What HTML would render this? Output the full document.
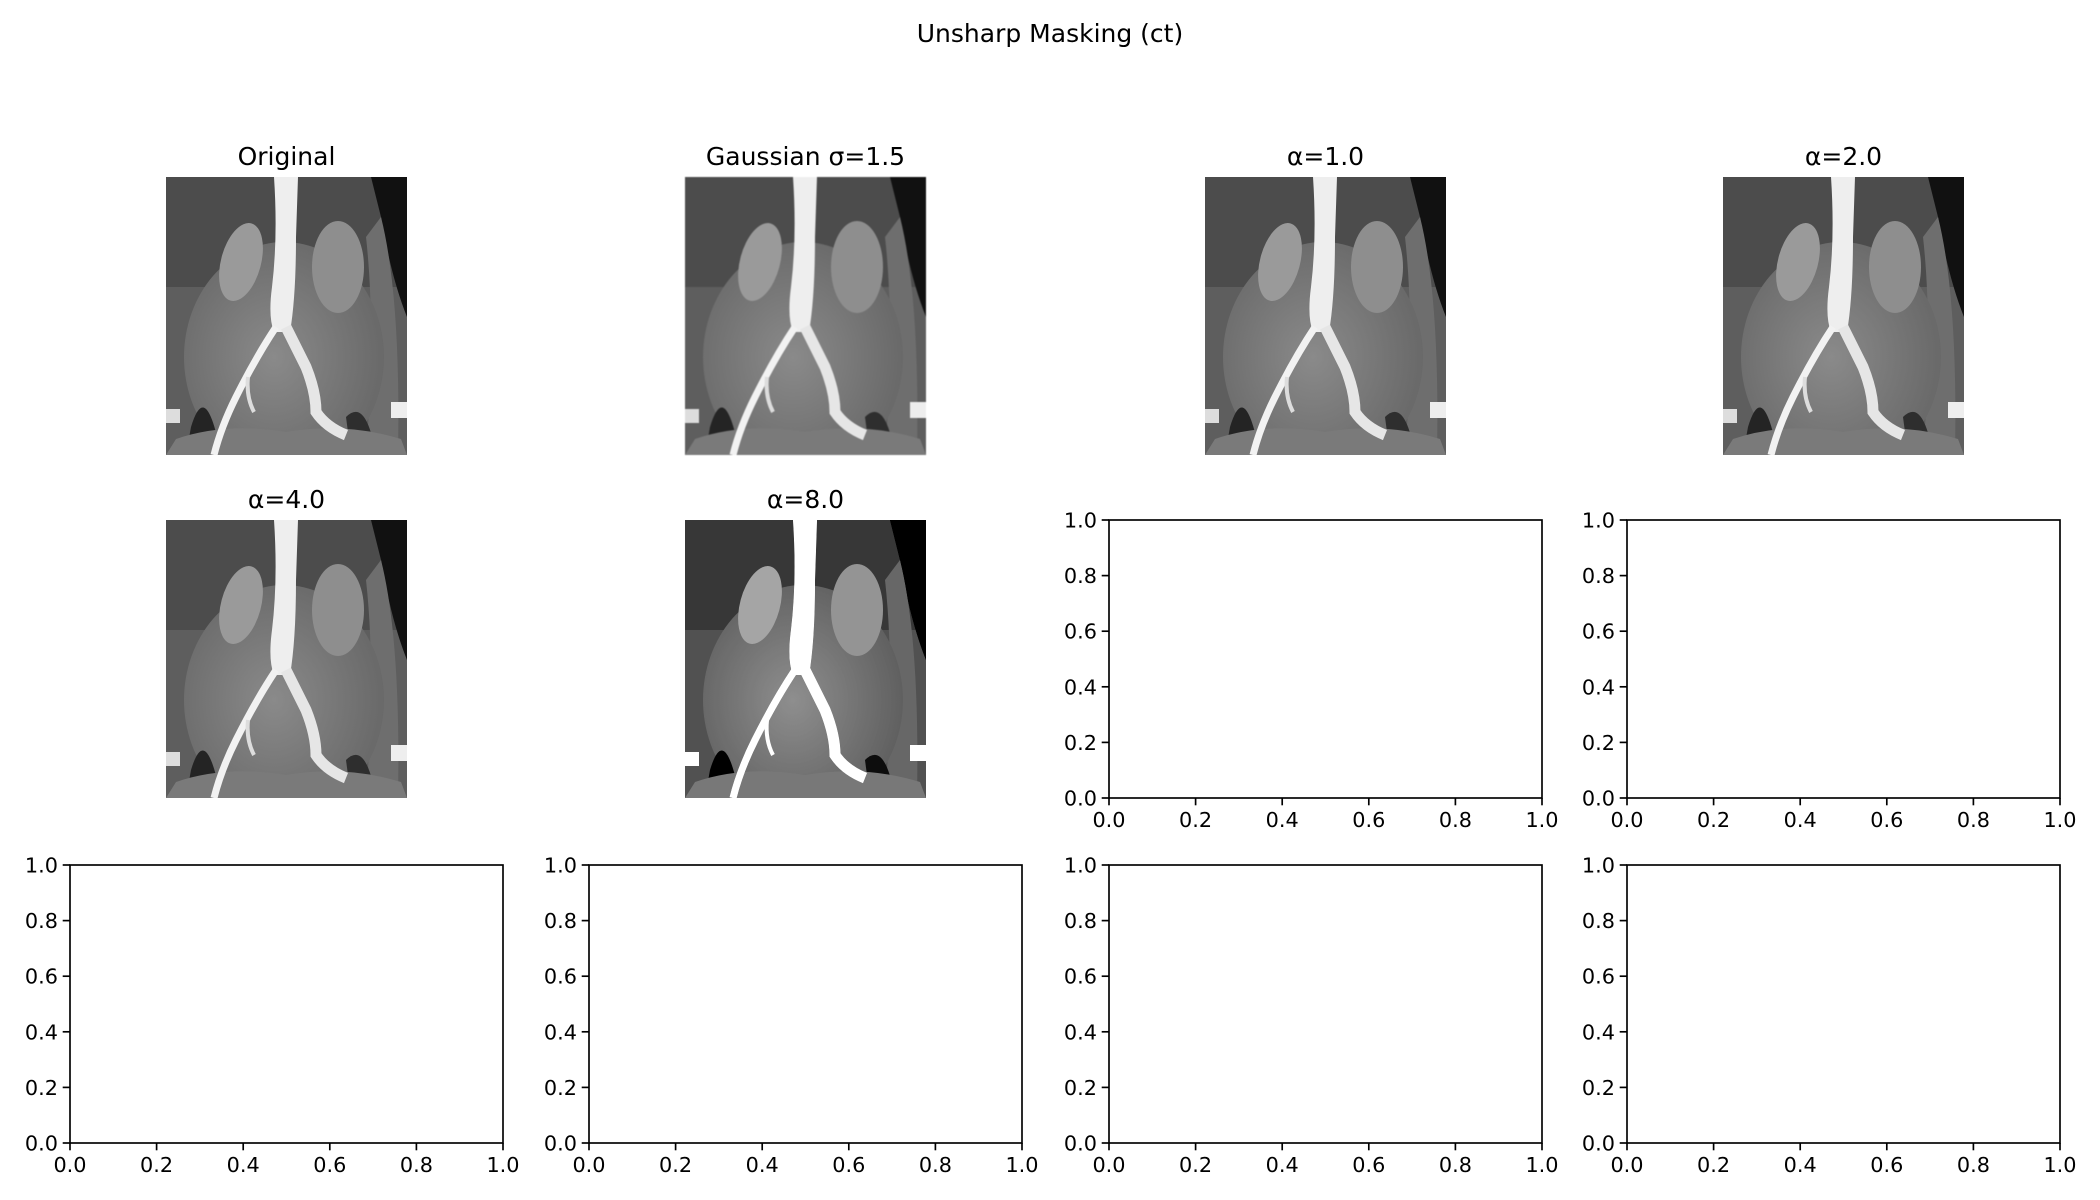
<!DOCTYPE html>
<html><head><meta charset="utf-8"><style>
html,body{margin:0;padding:0;background:#fff;}
svg{display:block;font-family:"DejaVu Sans","Liberation Sans",sans-serif;}
</style></head><body>
<svg id="fig" width="2100" height="1200" viewBox="0 0 2100 1200" xmlns="http://www.w3.org/2000/svg">
<defs>
<radialGradient id="bodyG" cx="0.45" cy="0.5" r="0.6"><stop offset="0" stop-color="#8a8a8a"/><stop offset="1" stop-color="#666"/></radialGradient>
<clipPath id="imgClip"><rect x="0" y="0" width="241" height="278"/></clipPath>
<g id="ct">
<g clip-path="url(#imgClip)">
<rect x="0" y="0" width="241" height="278" fill="#5e5e5e"/>
<rect x="0" y="0" width="241" height="110" fill="#4c4c4c"/>
<path d="M205 0 L241 0 L241 140 Q225 100 215 40 Z" fill="#111"/>
<path d="M215 40 Q235 120 232 278 L200 278 Q210 150 200 60 Z" fill="#6e6e6e"/>
<ellipse cx="118" cy="180" rx="100" ry="115" fill="url(#bodyG)"/>
<ellipse cx="75" cy="85" rx="20" ry="40" fill="#9a9a9a" transform="rotate(15 75 85)"/>
<ellipse cx="172" cy="90" rx="26" ry="46" fill="#8e8e8e"/>
<path d="M25 250 Q40 200 55 278 L20 278 Z" fill="#242424"/>
<path d="M180 240 Q200 220 210 278 L185 278 Z" fill="#2e2e2e"/>
<path d="M10 262 Q60 245 120 255 Q180 245 235 262 L241 278 L0 278 Z" fill="#7a7a7a"/>
<path d="M132 0 L108 0 Q112 60 106 110 Q102 140 108 155 L124 155 Q130 120 130 60 Z" fill="#eee"/>
<path d="M110 150 Q90 180 70 220 Q55 250 48 278" stroke="#f2f2f2" stroke-width="7" fill="none"/>
<path d="M120 150 Q130 170 140 190 Q150 215 150 235 Q160 250 180 258" stroke="#e6e6e6" stroke-width="11" fill="none"/>
<path d="M82 200 Q80 220 88 235" stroke="#ddd" stroke-width="4" fill="none"/>
<rect x="0" y="232" width="14" height="14" fill="#ddd"/>
<rect x="225" y="225" width="16" height="16" fill="#eee"/>
</g>
</g>
</defs>
<text x="1050" y="42" text-anchor="middle" font-size="25" fill="#000">Unsharp Masking (ct)</text>
<g id="panels"></g>
</svg>
<script>
const colLefts = [70, 589, 1109, 1627];
const rowTops = [177, 520, 865];
const axW = 433, axH = 278;
const imgTitles = ["Original", "Gaussian σ=1.5", "α=1.0", "α=2.0", "α=4.0", "α=8.0"];
const tickVals = [0, 0.2, 0.4, 0.6, 0.8, 1.0];
const tickLabels = ["0.0", "0.2", "0.4", "0.6", "0.8", "1.0"];
const NS = "http://www.w3.org/2000/svg";
const root = document.getElementById('panels');
function mk(tag, attrs, parent){const e=document.createElementNS(NS,tag);for(const k in attrs)e.setAttribute(k,attrs[k]);parent.appendChild(e);return e;}
for (let i = 0; i < 12; i++) {
  const r = Math.floor(i/4), c = i%4;
  const x0 = colLefts[c], y0 = rowTops[r];
  const g = mk('g', {}, root);
  if (i < imgTitles.length) {
    
    
    const iw = 241, ix = x0 + (axW - iw)/2;
    const u = mk('use', {href:'#ct', x:ix, y:y0}, g);
    if (i === 5) u.setAttribute('style','filter:contrast(1.4)');
    if (i === 1) u.setAttribute('style','filter:blur(0.6px)');
    
    
    const t = mk('text', {x:x0+axW/2, y:y0-12, 'text-anchor':'middle', 'font-size':25, fill:'#000'}, g);
    t.textContent = imgTitles[i];
    
    
  } else {
    
    
    const sx = v => x0 + v*axW, sy = v => y0 + axH - v*axH;
    const fr = mk('rect', {x:x0, y:y0, width:axW, height:axH, fill:'none', stroke:'#000', 'stroke-width':1.67}, g);
    
    
    tickVals.forEach((v, k) => {
      mk('line', {x1:sx(v), x2:sx(v), y1:y0+axH, y2:y0+axH+7.3, stroke:'#000', 'stroke-width':1.67}, g);
      const tx = mk('text', {x:sx(v), y:y0+axH+29, 'text-anchor':'middle', 'font-size':20.8, fill:'#000'}, g);
      tx.textContent = tickLabels[k];
      
      
      mk('line', {x1:x0-7.3, x2:x0, y1:sy(v), y2:sy(v), stroke:'#000', 'stroke-width':1.67}, g);
      const ty = mk('text', {x:x0-12, y:sy(v)+7.5, 'text-anchor':'end', 'font-size':20.8, fill:'#000'}, g);
      ty.textContent = tickLabels[k];
      
      
    });
  }
}
</script>
</body></html>
